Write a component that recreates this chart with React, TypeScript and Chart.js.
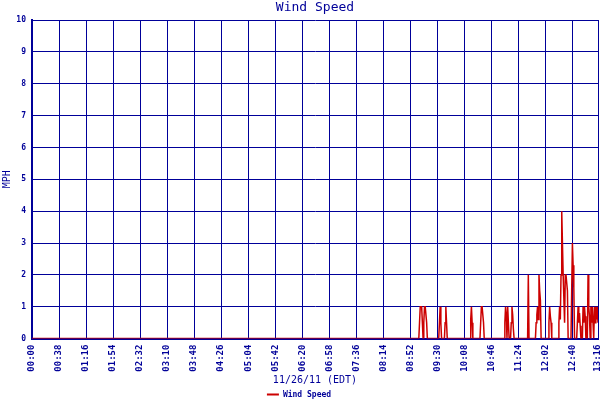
import React, { useEffect, useRef } from "react";
import { Chart, registerables } from "chart.js";

Chart.register(...registerables);

// X-axis tick labels (time of day, EDT)
const TICK_LABELS = [
  "00:00", "00:38", "01:16", "01:54", "02:32", "03:10", "03:48", "04:26",
  "05:04", "05:42", "06:20", "06:58", "07:36", "08:14", "08:52", "09:30",
  "10:08", "10:46", "11:24", "12:02", "12:40", "13:16",
];

// Sample times, minutes after midnight
const SAMPLE_MINUTES = [
  0,
  544, 545, 546, 547, 548, 549, 550, 551, 552, 553, 554, 555, 556,
  572, 573, 574, 575, 576,
  580, 581, 582, 583, 584,
  616, 617, 618, 619, 620,
  630, 631, 632, 633, 634, 635, 636,
  664, 665, 666, 667, 668, 669, 670, 671, 673, 674, 675, 676, 677, 678,
  697, 698, 699,
  708, 709, 710, 711, 712, 713, 714, 715, 716,
  726, 727, 728, 729, 730, 731,
  740, 741, 742, 743, 744, 745, 746, 747, 748, 749, 750, 751, 752, 753, 754,
  758, 759, 760, 761, 762, 763,
  766, 767, 768, 769, 770, 771, 772,
  774, 775, 776, 777, 778, 779,
  781, 782, 783, 784, 785, 786, 787, 788, 789, 790, 791, 792, 793, 794, 795, 796,
];

// Wind speed (MPH) at each sample time
const WIND_MPH = [
  0,
  0, 0.5, 1, 1, 1, 0.5, 0, 0.5, 1, 1, 1, 0.5, 0,
  0, 0.5, 1, 0.5, 0,
  0, 0.5, 1, 0.5, 0,
  0, 0.6, 1, 0.5, 0,
  0, 0.5, 1, 1, 1, 0.5, 0,
  0, 0.5, 1, 0.75, 0, 1, 0.5, 0, 0, 0.5, 1, 0.75, 0.3, 0,
  0, 2, 0,
  0, 0.5, 0.75, 1, 0.6, 2, 1.5, 1.2, 0,
  0, 0.5, 1, 0.7, 0.5, 0,
  0, 0.5, 1, 0.6, 2, 4, 3, 2, 2, 0.5, 2, 2, 2, 1.5, 0,
  0, 1.5, 3, 2.3, 1.6, 0,
  0, 0.5, 1, 0.5, 0.8, 0.4, 0,
  0, 1, 0.5, 1, 0.7, 0,
  0, 2, 1, 0.7, 0, 1, 0.5, 1, 0.5, 0, 1, 0.5, 1, 0.6, 1, 0.5,
];

const NAVY = "#000099";
const RED = "#cc0000";
const MONO = "'DejaVu Sans Mono', monospace";

const toMinutes = (s: string) => {
  const [h, m] = s.split(":").map(Number);
  return h * 60 + m;
};
const TICK_MINUTES = TICK_LABELS.map(toMinutes);

export default function App() {
  const canvasRef = useRef<HTMLCanvasElement | null>(null);

  useEffect(() => {
    if (!canvasRef.current) return;
    const points = SAMPLE_MINUTES.map((x, i) => ({ x, y: WIND_MPH[i] }));
    const chart = new Chart(canvasRef.current, {
      type: "line",
      data: {
        datasets: [
          {
            label: "Wind Speed",
            data: points,
            borderColor: RED,
            backgroundColor: RED,
            borderWidth: 1.5,
            pointRadius: 0,
            tension: 0,
            fill: false,
          },
        ],
      },
      options: {
        responsive: false,
        animation: false,
        events: [],
        layout: { padding: { left: 0, right: 2, top: 0, bottom: -8.6 } },
        scales: {
          x: {
            type: "linear",
            min: 0,
            max: TICK_MINUTES[TICK_MINUTES.length - 1],
            afterBuildTicks: (scale: any) => {
              scale.ticks = TICK_MINUTES.map((v) => ({ value: v }));
            },
            afterFit: (scale: any) => {
              scale.paddingLeft = 0;
              scale.paddingRight = 0;
              scale.height = 50;
            },
            ticks: {
              autoSkip: false,
              minRotation: 90,
              maxRotation: 90,
              padding: 6,
              color: NAVY,
              font: { family: MONO, size: 9, weight: "bold" },
              callback: (value: any) => {
                const i = TICK_MINUTES.indexOf(Number(value));
                return i >= 0 ? TICK_LABELS[i] : "";
              },
            },
            grid: { color: NAVY, lineWidth: 1, drawTicks: false },
            border: { color: NAVY, width: 2 },
            title: {
              display: true,
              text: "11/26/11 (EDT)",
              color: NAVY,
              font: { family: MONO, size: 10, weight: "normal" },
              padding: { top: 0, bottom: 2.4 },
            },
          },
          y: {
            type: "linear",
            min: 0,
            max: 10,
            afterFit: (scale: any) => {
              scale.width = 32;
              scale.paddingTop = 0;
              scale.paddingBottom = 0;
            },
            ticks: {
              stepSize: 1,
              padding: 6,
              color: NAVY,
              font: { family: MONO, size: 8, weight: "bold" },
            },
            grid: { color: NAVY, lineWidth: 1, drawTicks: false },
            border: { color: NAVY, width: 2 },
            title: {
              display: true,
              text: "MPH",
              color: NAVY,
              font: { family: MONO, size: 10, weight: "normal" },
              padding: { top: 1.5, bottom: 0 },
            },
          },
        },
        plugins: {
          title: {
            display: true,
            text: "Wind Speed",
            color: NAVY,
            fullSize: false,
            font: { family: MONO, size: 13, weight: "normal", lineHeight: 1.2 },
            padding: { top: 0, bottom: 4.4 },
          },
          legend: {
            display: true,
            position: "bottom",
            labels: {
              boxWidth: 12,
              boxHeight: 2,
              padding: 2,
              color: NAVY,
              font: { family: MONO, size: 8, weight: "bold" },
              generateLabels: (c: any) =>
                Chart.defaults.plugins.legend.labels
                  .generateLabels(c)
                  .map((l: any) => ({ ...l, lineWidth: 0, fillStyle: RED })),
            },
          },
          tooltip: { enabled: false },
        },
      },
    } as any);
    return () => chart.destroy();
  }, []);

  return (
    <div style={{ position: "fixed", left: 0, top: 0, width: 600, height: 400, background: "#fff" }}>
      <canvas ref={canvasRef} width={600} height={400} style={{ display: "block", width: 600, height: 400 }} />
    </div>
  );
}
